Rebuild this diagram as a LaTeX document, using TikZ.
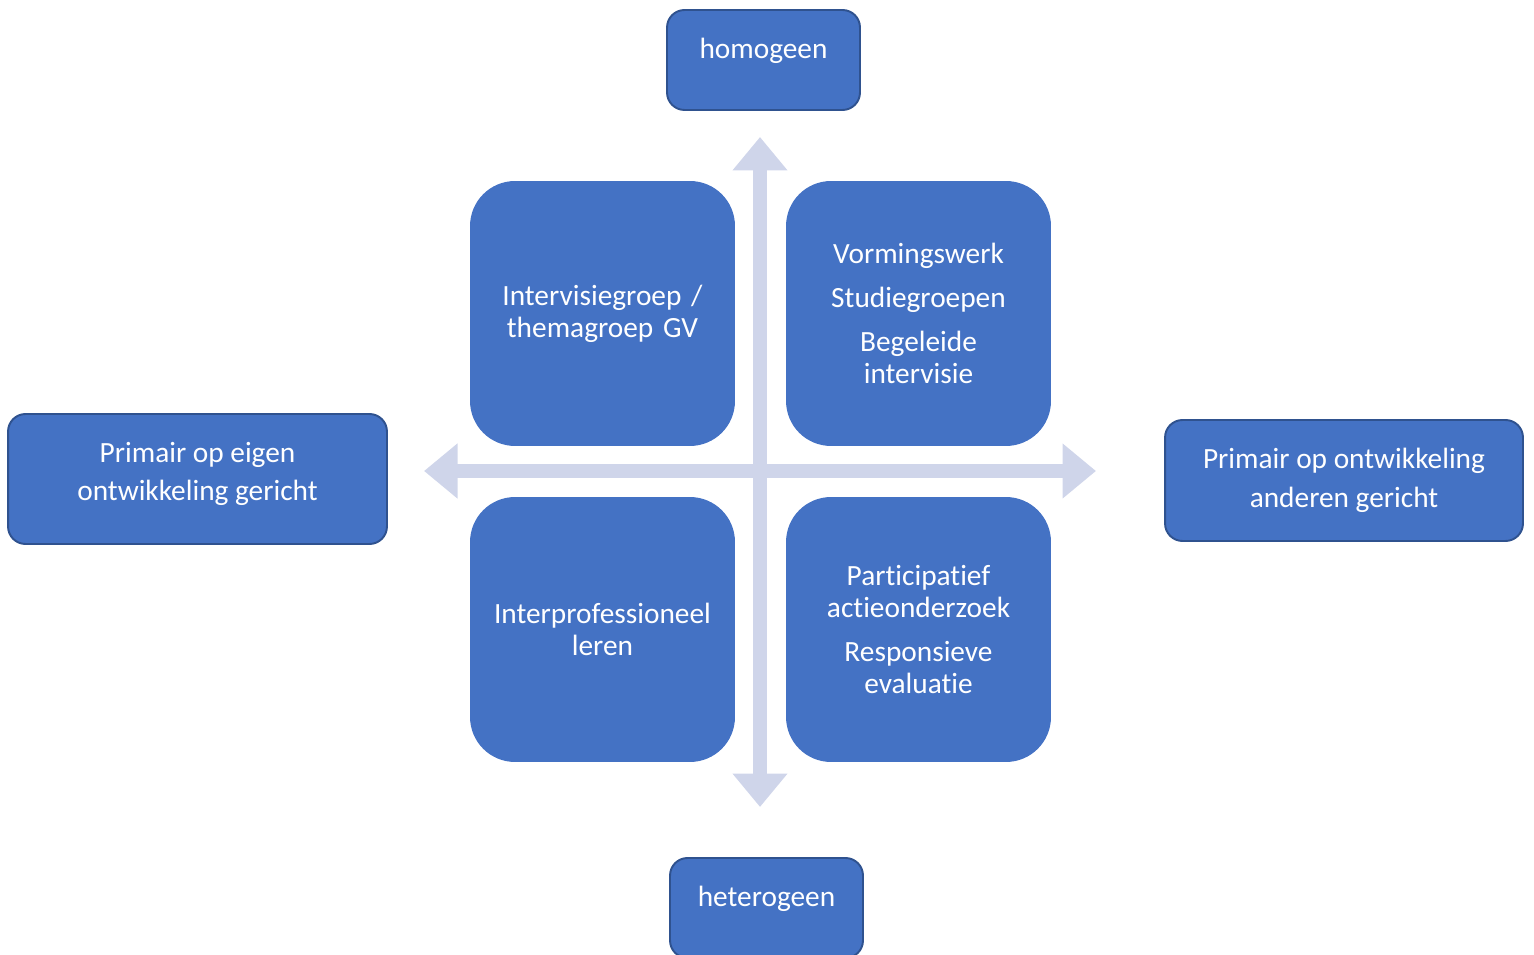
\documentclass[tikz,border=0pt]{standalone}
\usepackage{fontspec}
\setmainfont[Ligatures={NoCommon}]{Carlito}
\usetikzlibrary{arrows.meta}
\definecolor{boxblue}{HTML}{4472C4}
\definecolor{boxedge}{HTML}{2F528F}
\definecolor{axisgray}{HTML}{CFD5EA}
\begin{document}
\begin{tikzpicture}[x=0.02cm,y=-0.02cm,
  quad/.style={fill=boxblue,rounded corners=0.9cm,minimum width=5.3cm,minimum height=5.3cm,text width=5cm,align=center,text=white,font=\fontsize{16.7}{18.2}\selectfont},
  pole/.style={fill=boxblue,draw=boxedge,line width=1.1pt,rounded corners=0.35cm,align=center,text=white,font=\fontsize{16.7}{22}\selectfont},
  axis/.style={axisgray,line width=0.28cm,{Triangle[width=1.06cm,length=0.67cm]}-{Triangle[width=1.06cm,length=0.67cm]}}]
\useasboundingbox (0,0) rectangle (1534,955);
% assen
\coordinate (N) at (760,137);
\coordinate (S) at (760,807);
\coordinate (W) at (424,471);
\coordinate (E) at (1096,471);
\draw [axis] (S) -- (N);
\draw [axis] (W) -- (E);
% kwadranten
\node [quad] (tl) at (602.5,313.5) {Intervisiegroep /\\themagroep GV};
\node [quad] (tr) at (918.5,313.5) {Vormingswerk\\[0.24cm]Studiegroepen\\[0.24cm]Begeleide\\intervisie};
\node [quad] (bl) at (602.5,629.5) {Interprofessioneel\\leren};
\node [quad] (br) at (918.5,629.5) {Participatief\\actieonderzoek\\[0.24cm]Responsieve\\evaluatie};
% polen
\node [pole,minimum width=3.86cm,minimum height=2cm,text depth=0.45cm] (top) at (763.5,60) {homogeen};
\node [pole,minimum width=3.86cm,minimum height=2cm,text depth=0.45cm] (bottom) at (766.5,908) {heterogeen};
\node [pole,minimum width=7.58cm,minimum height=2.6cm,text depth=0.3cm] (left) at (197.5,479) {Primair op eigen\\ontwikkeling gericht};
\node [pole,minimum width=7.16cm,minimum height=2.42cm] (right) at (1344,480.5) {Primair op ontwikkeling\\anderen gericht};
\end{tikzpicture}
\end{document}
